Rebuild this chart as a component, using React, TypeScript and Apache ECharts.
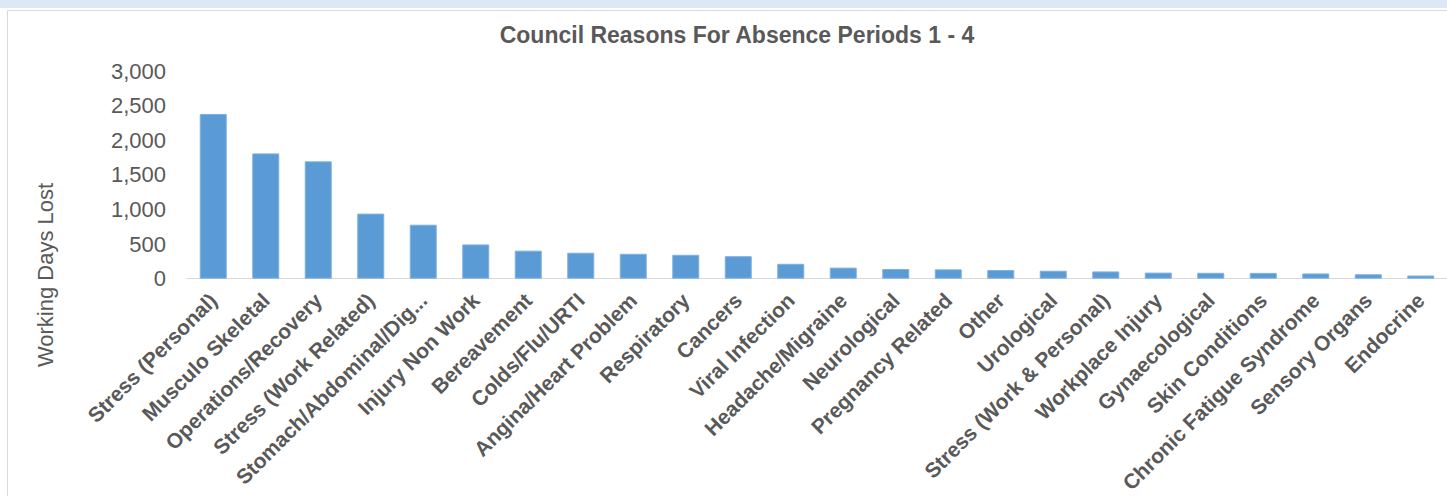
import React, { useEffect, useRef } from "react";
import * as echarts from "echarts";

const categories = [
  "Stress (Personal)",
  "Musculo Skeletal",
  "Operations/Recovery",
  "Stress (Work Related)",
  "Stomach/Abdominal/Dig...",
  "Injury Non Work",
  "Bereavement",
  "Colds/Flu/URTI",
  "Angina/Heart Problem",
  "Respiratory",
  "Cancers",
  "Viral Infection",
  "Headache/Migraine",
  "Neurological",
  "Pregnancy Related",
  "Other",
  "Urological",
  "Stress (Work & Personal)",
  "Workplace Injury",
  "Gynaecological",
  "Skin Conditions",
  "Chronic Fatigue Syndrome",
  "Sensory Organs",
  "Endocrine",
];

const workingDaysLost = [
  2380, 1810, 1695, 940, 780, 495, 405, 375, 360, 345, 325, 215, 160, 140, 135,
  125, 115, 105, 88, 85, 84, 76, 64, 46,
];

const titleText = "Council Reasons For Absence Periods 1 - 4";
const yAxisTitle = "Working Days Lost";
const yMin = 0;
const yMax = 3000;
const yInterval = 500;

const FONT = "'Liberation Sans', Arial, sans-serif";
const TEXT = "#595959";

export default function App() {
  const ref = useRef<HTMLDivElement>(null);

  useEffect(() => {
    if (!ref.current) return;
    const chart = echarts.init(ref.current, undefined, { renderer: "svg" });
    chart.setOption({
      animation: false,
      backgroundColor: "#ffffff",
      textStyle: { fontFamily: FONT },
      title: {
        text: titleText,
        left: 732,
        top: 18,
        textAlign: "center",
        textStyle: {
          fontFamily: FONT,
          fontSize: 23,
          fontWeight: "bold",
          color: TEXT,
        },
      },
      graphic: [
        {
          type: "rect",
          z: -10,
          shape: { x: 0, y: 0, width: 1447, height: 8 },
          style: { fill: "#dce9f5" },
        },
        {
          type: "rect",
          z: -10,
          shape: { x: 7.5, y: 10.5, width: 1460, height: 500 },
          style: { fill: "#ffffff", stroke: "#d9d9d9", lineWidth: 1 },
        },
        {
          type: "text",
          x: 45,
          y: 275,
          rotation: Math.PI / 2,
          style: {
            text: yAxisTitle,
            fontFamily: FONT,
            fontSize: 22,
            fill: TEXT,
            align: "center",
            verticalAlign: "middle",
          },
        },
      ],
      grid: {
        left: 187,
        right: 0,
        top: 71,
        bottom: 216,
        containLabel: false,
      },
      xAxis: {
        type: "category",
        data: categories,
        axisLine: { show: true, lineStyle: { color: "#d9d9d9", width: 1 } },
        axisTick: { show: false },
        axisLabel: {
          interval: 0,
          rotate: 45,
          margin: 18,
          fontFamily: FONT,
          fontSize: 21,
          fontWeight: "bold",
          color: TEXT,
        },
      },
      yAxis: {
        type: "value",
        min: yMin,
        max: yMax,
        interval: yInterval,
        axisLine: { show: false },
        axisTick: { show: false },
        splitLine: { show: false },
        axisLabel: {
          margin: 21,
          fontFamily: FONT,
          fontSize: 22,
          color: TEXT,
          formatter: (v: number) => v.toLocaleString("en-US"),
        },
      },
      series: [
        {
          type: "bar",
          data: workingDaysLost,
          barWidth: 27,
          itemStyle: { color: "#5b9bd5", borderColor: "#7eb1e0", borderWidth: 1 },
        },
      ],
    });
    return () => chart.dispose();
  }, []);

  return (
    <div
      ref={ref}
      style={{ position: "fixed", left: 0, top: 0, width: 1447, height: 496 }}
    />
  );
}
